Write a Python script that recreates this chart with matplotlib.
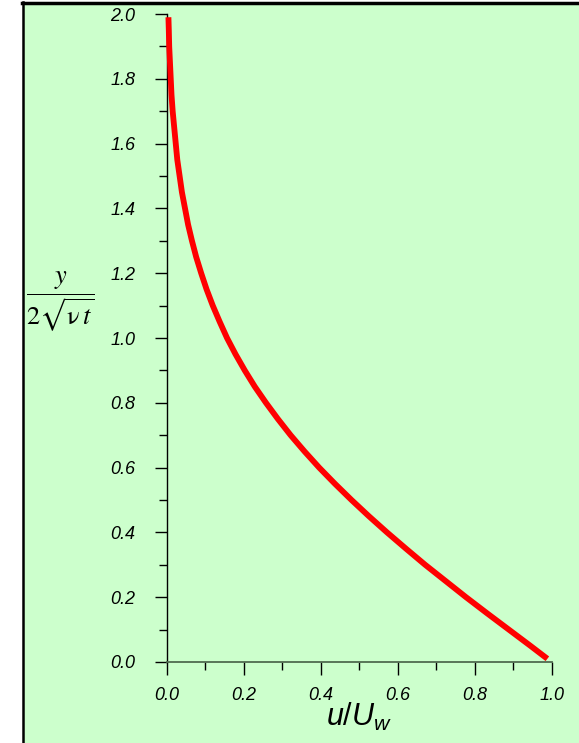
import matplotlib
matplotlib.use("Agg")
import matplotlib.pyplot as plt
from matplotlib.lines import Line2D
from matplotlib.patches import Rectangle
from matplotlib.ticker import MultipleLocator, FormatStrFormatter

# similarity variable and velocity ratio along the profile
eta = [0.01, 0.05, 0.1, 0.15, 0.2, 0.25, 0.3, 0.35, 0.4, 0.45, 0.5, 0.55,
       0.6, 0.65, 0.7, 0.75, 0.8, 0.85, 0.9, 0.95, 1.0, 1.05, 1.1, 1.15,
       1.2, 1.25, 1.3, 1.35, 1.4, 1.45, 1.5, 1.55, 1.6, 1.65, 1.7, 1.75,
       1.8, 1.85, 1.9, 1.95, 1.99]
u_ratio = [0.988, 0.944, 0.888, 0.832, 0.777, 0.724, 0.671, 0.621, 0.572,
           0.525, 0.480, 0.437, 0.396, 0.358, 0.322, 0.289, 0.258, 0.229,
           0.203, 0.179, 0.157, 0.138, 0.120, 0.104, 0.090, 0.077, 0.066,
           0.056, 0.048, 0.040, 0.034, 0.028, 0.024, 0.020, 0.016, 0.013,
           0.011, 0.009, 0.007, 0.006, 0.005]

x_ticks = [0.0, 0.2, 0.4, 0.6, 0.8, 1.0]
y_ticks = [0.0, 0.2, 0.4, 0.6, 0.8, 1.0, 1.2, 1.4, 1.6, 1.8, 2.0]

W, H = 579, 743
fig = plt.figure(figsize=(W / 100, H / 100), dpi=100)
fig.patch.set_facecolor("white")

# green panel with black frame on top and left
fig.add_artist(Rectangle((22.5 / W, 0), 1, (H - 2.5) / H, transform=fig.transFigure,
                         facecolor="#ccffcc", edgecolor="none", zorder=0))
fig.add_artist(Line2D([23 / W, 23 / W], [0, (H - 1.5) / H], transform=fig.transFigure,
                      color="black", lw=1.8, zorder=1))
fig.add_artist(Line2D([22 / W, 1], [(H - 2.5) / H, (H - 2.5) / H], transform=fig.transFigure,
                      color="black", lw=2.5, zorder=1))

ax = fig.add_axes([166.5 / W, 81 / H, (552 - 166.5) / W, (729 - 81) / H])
ax.patch.set_alpha(0)

ax.plot(u_ratio, eta, color="#ff0000", lw=4.2, clip_on=False, solid_capstyle="butt",
        solid_joinstyle="round", zorder=5)

ax.set_xlim(0, 1)
ax.set_ylim(0, 2)
ax.set_xticks(x_ticks)
ax.set_yticks(y_ticks)
ax.xaxis.set_minor_locator(MultipleLocator(0.1))
ax.yaxis.set_minor_locator(MultipleLocator(0.1))
ax.xaxis.set_major_formatter(FormatStrFormatter("%.1f"))
ax.yaxis.set_major_formatter(FormatStrFormatter("%.1f"))

for side in ("top", "right"):
    ax.spines[side].set_visible(False)
ax.spines["left"].set_color("black")
ax.spines["bottom"].set_color("#4f6b4f")
ax.spines["left"].set_linewidth(1.0)
ax.spines["bottom"].set_linewidth(1.3)

ax.tick_params(axis="y", which="major", direction="out", length=8.5, width=1.0,
               pad=14, color="black")
ax.tick_params(axis="y", which="minor", direction="out", length=6, width=1.0, color="black")
ax.tick_params(axis="x", which="major", direction="out", length=9, width=1.0,
               pad=9, color="black")
ax.tick_params(axis="x", which="minor", direction="out", length=6, width=1.0, color="black")

for lab in ax.get_xticklabels() + ax.get_yticklabels():
    lab.set_fontfamily("Liberation Sans")
    lab.set_fontstyle("italic")
    lab.set_fontsize(13)

plt.rcParams["mathtext.fontset"] = "custom"
plt.rcParams["mathtext.it"] = "Liberation Sans:italic"
plt.rcParams["mathtext.rm"] = "Liberation Sans"

fig.text(359 / W, (H - 717) / H, r"$u/U_w$", ha="center", va="center", fontsize=22)
fig.text(60 / W, (H - 302) / H, r"$\dfrac{y}{2\sqrt{\mathrm{ν}\, t}}$", ha="center",
         va="center", fontsize=19, math_fontfamily="stix")

fig.savefig("out.png", dpi=100)
